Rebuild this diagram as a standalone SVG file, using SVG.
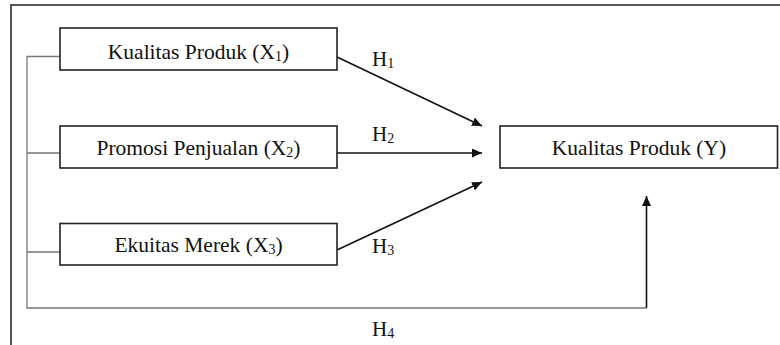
<svg xmlns="http://www.w3.org/2000/svg" width="780" height="345" viewBox="0 0 780 345">
<defs>
<style>
.box{fill:#fff;stroke:#222;stroke-width:1.6}
.lbl{font-family:"Liberation Serif","Times New Roman",serif;font-size:21.5px;fill:#111;text-anchor:middle}
.h{font-family:"Liberation Serif","Times New Roman",serif;font-size:21px;fill:#111}
.sub{font-size:14px}
.arr{stroke:#111;stroke-width:1.6;fill:none;marker-end:url(#ah)}
.br{stroke:#777;stroke-width:1.3;fill:none}
</style>
<marker id="ah" viewBox="0 0 10 10" refX="10" refY="5" markerWidth="10" markerHeight="9" markerUnits="userSpaceOnUse" orient="auto" preserveAspectRatio="none">
<path d="M0,0 L10,5 L0,10 z" fill="#111"/>
</marker>
</defs>
<rect width="780" height="345" fill="#fff"/>
<rect x="11" y="5" width="800" height="400" fill="none" stroke="#444" stroke-width="1.8"/>
<g id="connectors">
<path class="br" d="M60,56.5 H27 V308 H646.5"/>
<path class="br" d="M27,153 H60"/>
<path class="br" d="M27,252 H60"/>
<path class="arr" d="M646.5,308 V196" stroke-width="1.4"/>
<path class="arr" d="M337,57 L482,126"/>
<path class="arr" d="M337,153 L482,153"/>
<path class="arr" d="M337,250 L482,182"/>
<text class="h" x="372" y="66">H<tspan class="sub" dy="2">1</tspan></text>
<text class="h" x="372" y="141">H<tspan class="sub" dy="2">2</tspan></text>
<text class="h" x="372" y="253">H<tspan class="sub" dy="2">3</tspan></text>
<text class="h" x="372" y="336">H<tspan class="sub" dy="2">4</tspan></text>
</g>
<g id="x1">
<rect class="box" x="60" y="28" width="277" height="42"/>
<text class="lbl" x="198.5" y="59">Kualitas Produk (X<tspan class="sub" dy="2">1</tspan><tspan dy="-2">)</tspan></text>
</g>
<g id="x2">
<rect class="box" x="60" y="126" width="277" height="42"/>
<text class="lbl" x="198.5" y="155">Promosi Penjualan (X<tspan class="sub" dy="2">2</tspan><tspan dy="-2">)</tspan></text>
</g>
<g id="x3">
<rect class="box" x="60" y="223.5" width="277" height="41.5"/>
<text class="lbl" x="198.5" y="252">Ekuitas Merek (X<tspan class="sub" dy="2">3</tspan><tspan dy="-2">)</tspan></text>
</g>
<g id="y">
<rect class="box" x="500" y="126" width="277.5" height="42"/>
<text class="lbl" x="639" y="155">Kualitas Produk (Y)</text>
</g>
</svg>
